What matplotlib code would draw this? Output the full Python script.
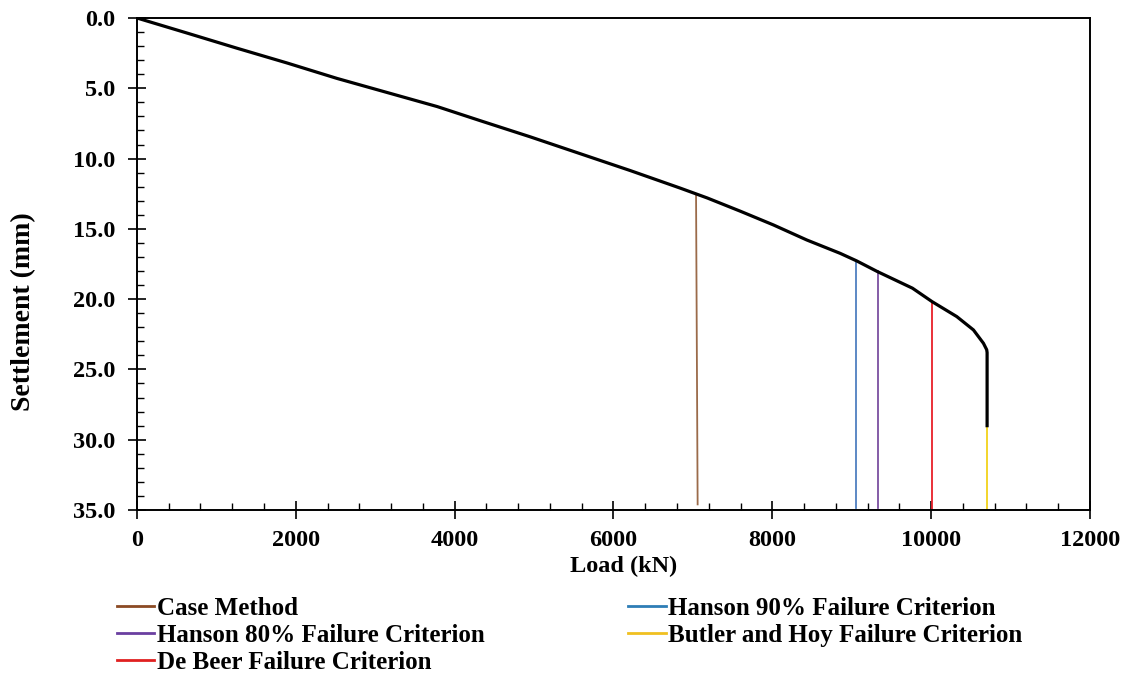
import matplotlib.pyplot as plt
from matplotlib.ticker import MultipleLocator, FormatStrFormatter

plt.rcParams['font.family'] = 'Liberation Serif'
plt.rcParams['font.weight'] = 'bold'

# load-settlement curve
load = [0, 630, 1260, 1890, 2520, 3150, 3780, 4320, 4950, 5580, 6210, 6840,
        7180, 7600, 8014, 8434, 8854, 9063, 9324, 9765, 10013, 10323, 10533,
        10659, 10700, 10705, 10705]
settlement = [0.0, 1.07, 2.15, 3.2, 4.3, 5.3, 6.3, 7.3, 8.45, 9.65, 10.85,
              12.1, 12.8, 13.75, 14.72, 15.79, 16.74, 17.28, 18.04, 19.22,
              20.18, 21.24, 22.19, 23.14, 23.6, 23.8, 29.0]

# failure criteria lines (legend order: column 1 then column 2)
crit_names = ['Case Method', 'Hanson 80% Failure Criterion', 'De Beer Failure Criterion',
              'Hanson 90% Failure Criterion', 'Butler and Hoy Failure Criterion']
crit_load_top = [7040, 9325, 10010, 9055, 10705]
crit_load_bot = [7060, 9325, 10010, 9055, 10705]
crit_s_top = [12.55, 18.0, 20.2, 17.35, 25.5]
crit_s_bot = [34.6, 34.85, 35.0, 34.85, 35.0]
crit_colors = ['#9B6B4A', '#7B4FA0', '#E8202A', '#4F7FC0', '#F2D21A']
legend_colors = ['#8B4A24', '#6A3FA0', '#E02020', '#2E7DB6', '#F0C020']

fig = plt.figure(figsize=(11.31, 6.74), dpi=100)
ax = fig.add_axes([0.1211, 0.2433, 0.8426, 0.730])

for i in range(len(crit_names)):
    ax.plot([crit_load_top[i], crit_load_bot[i]], [crit_s_top[i], crit_s_bot[i]],
            color=crit_colors[i], lw=1.3, zorder=2)
    ax.plot([], [], color=legend_colors[i], lw=2, label=crit_names[i])

ax.plot(load, settlement, color='black', lw=2.3, zorder=3)

ax.set_xlim(0, 12000)
ax.set_ylim(35, 0)
ax.xaxis.set_major_locator(MultipleLocator(2000))
ax.xaxis.set_minor_locator(MultipleLocator(400))
ax.yaxis.set_major_locator(MultipleLocator(5))
ax.yaxis.set_minor_locator(MultipleLocator(1))
ax.yaxis.set_major_formatter(FormatStrFormatter('%.1f'))
ax.tick_params(which='major', direction='inout', length=13, width=1.2, labelsize=17.5)
ax.tick_params(which='minor', direction='in', length=5, width=1.0)
ax.tick_params(axis='x', which='major', pad=8)
ax.tick_params(axis='y', which='major', pad=9)
for s in ax.spines.values():
    s.set_linewidth(1.4)

ax.set_xlabel('Load (kN)', fontsize=17.5, fontweight='bold')
ax.set_ylabel('Settlement (mm)', fontsize=20, fontweight='bold')
ax.xaxis.set_label_coords(0.511, -0.0935)
ax.yaxis.set_label_coords(-0.106, 0.404)

fig.legend(loc='upper left', bbox_to_anchor=(0.1034, 0.114), ncol=2, frameon=False,
           fontsize=18, handlelength=1.5, handletextpad=0.1, columnspacing=5.74,
           labelspacing=0.16, borderaxespad=0, borderpad=0)

fig.savefig('out.png', dpi=100)
